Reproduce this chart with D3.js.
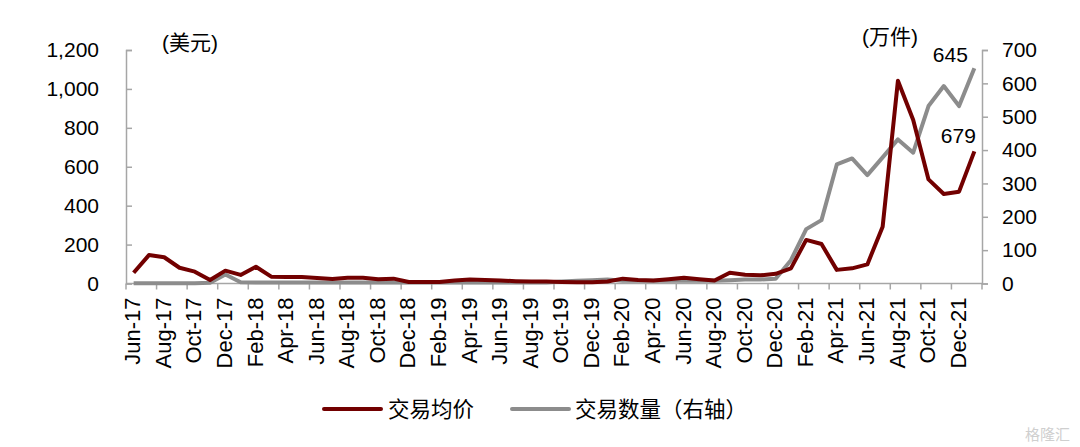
<!DOCTYPE html>
<html><head><meta charset="utf-8">
<script src="https://cdn.jsdelivr.net/npm/d3@7"></script>
<style>
body{margin:0;background:#fff;}
text{font-family:"Liberation Sans","Noto Sans CJK SC",sans-serif;fill:#000;}
</style></head>
<body><svg id="c" width="1080" height="447"></svg>
<script>
const months = ["Jun-17","Jul-17","Aug-17","Sep-17","Oct-17","Nov-17","Dec-17","Jan-18","Feb-18","Mar-18","Apr-18","May-18","Jun-18","Jul-18","Aug-18","Sep-18","Oct-18","Nov-18","Dec-18","Jan-19","Feb-19","Mar-19","Apr-19","May-19","Jun-19","Jul-19","Aug-19","Sep-19","Oct-19","Nov-19","Dec-19","Jan-20","Feb-20","Mar-20","Apr-20","May-20","Jun-20","Jul-20","Aug-20","Sep-20","Oct-20","Nov-20","Dec-20","Jan-21","Feb-21","Mar-21","Apr-21","May-21","Jun-21","Jul-21","Aug-21","Sep-21","Oct-21","Nov-21","Dec-21","Jan-22"];
const avgPrice = [55,146,135,81,61,18,66,44,86,35,33,33,28,23,30,30,22,25,8,8,8,15,20,18,15,12,10,10,8,6,6,10,25,18,15,22,30,22,15,55,45,42,50,78,224,203,70,78,98,292,1042,840,535,460,472,679];
const volume = [1,1,1,1,1,2,27,4,3,3,3,3,3,3,3,3,3,3,3,3,3,3,3,3,3,3,3,3,6,8,10,12,8,8,8,8,8,8,8,10,12,12,14,70,163,190,357,375,325,378,432,392,532,592,532,645];
const leftTicks = [0,200,400,600,800,1000,1200];
const rightTicks = [0,100,200,300,400,500,600,700];
const seriesNames = ["交易均价","交易数量（右轴）"];
const unitLeft = "(美元)", unitRight = "(万件)";

const svg = d3.select("#c");
const x0 = 126, x1 = 982, yTop = 50, yBot = 283.5;
const x = d3.scaleBand().domain(months).range([x0, x1]).paddingInner(0).paddingOuter(0);
const bw = x.bandwidth();
const yL = d3.scaleLinear().domain([0,1200]).range([yBot, yTop]);
const yR = d3.scaleLinear().domain([0,700]).range([yBot, yTop]);
const axisColor = "#a6a6a6";
const fs = 21;

const gL = svg.append("g").attr("transform",`translate(${x0},0)`)
  .call(d3.axisLeft(yL).tickValues(leftTicks).tickFormat(d3.format(",")).tickSize(-6).tickPadding(27));
const gR = svg.append("g").attr("transform",`translate(${x1},0)`)
  .call(d3.axisRight(yR).tickValues(rightTicks).tickSize(6).tickPadding(14));
[gL,gR].forEach(g=>{
  g.select(".domain").attr("stroke",axisColor).attr("stroke-width",1.5);
  g.selectAll(".tick line").attr("stroke",axisColor).attr("stroke-width",1.5);
  g.selectAll(".tick text").attr("font-size",fs).attr("font-family","Liberation Sans").attr("fill","#000");
});

const gB = svg.append("g");
gB.append("line").attr("x1",x0).attr("x2",x1).attr("y1",yBot).attr("y2",yBot)
  .attr("stroke",axisColor).attr("stroke-width",1.5);
const tickPos = months.filter((m,i)=>i%2===0).map(m=>x(m)).concat([x1]);
gB.selectAll("line.t").data(tickPos).enter().append("line").attr("class","t")
  .attr("x1",d=>d).attr("x2",d=>d).attr("y1",yBot).attr("y2",yBot+6)
  .attr("stroke",axisColor).attr("stroke-width",1.5);
gB.selectAll("text").data(months.filter((m,i)=>i%2===0)).enter().append("text")
  .attr("transform",d=>`translate(${x(d)+bw/2-1},${yBot+14}) rotate(-90)`)
  .attr("text-anchor","end").attr("dy","0.35em").attr("font-size",22).text(d=>d);

const cx = d=>x(d)+bw/2;
const lineP = d3.line().x((d,i)=>cx(months[i])).y(d=>yL(d));
const lineV = d3.line().x((d,i)=>cx(months[i])).y(d=>yR(d));
svg.append("path").datum(volume).attr("d",lineV).attr("fill","none")
  .attr("stroke","#8c8c8c").attr("stroke-width",4).attr("stroke-linejoin","round");
svg.append("path").datum(avgPrice).attr("d",lineP).attr("fill","none")
  .attr("stroke","#720000").attr("stroke-width",4).attr("stroke-linejoin","round");

const last = months.length-1;
svg.append("text").attr("x",cx(months[last])-24).attr("y",yR(volume[last])-6)
  .attr("text-anchor","middle").attr("font-size",fs).text(volume[last]);
svg.append("text").attr("x",cx(months[last])-16).attr("y",yL(avgPrice[last])-8)
  .attr("text-anchor","middle").attr("font-size",fs).text(avgPrice[last]);

svg.append("text").attr("x",162).attr("y",50).attr("font-size",21).text(unitLeft);
svg.append("text").attr("x",862).attr("y",44).attr("font-size",21).text(unitRight);

const leg = [{name:seriesNames[0],color:"#720000",lx:324,tx:388},{name:seriesNames[1],color:"#8c8c8c",lx:512,tx:575}];
leg.forEach(l=>{
  svg.append("line").attr("x1",l.lx).attr("x2",l.lx+57).attr("y1",409).attr("y2",409)
    .attr("stroke",l.color).attr("stroke-width",4).attr("stroke-linecap","round");
  svg.append("text").attr("x",l.tx).attr("y",417).attr("font-size",21.5)
    .attr("font-family","Noto Sans CJK SC").text(l.name);
});
svg.append("text").attr("x",1070).attr("y",440).attr("text-anchor","end").attr("font-size",15)
  .style("fill","#cfcfcf").attr("font-family","Noto Sans CJK SC").text("格隆汇");
</script></body></html>
